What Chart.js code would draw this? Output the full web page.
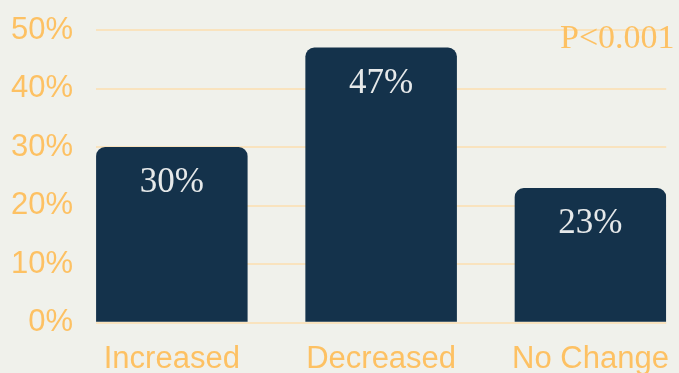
<!DOCTYPE html>
<html>
<head>
<meta charset="utf-8">
<script src="https://cdn.jsdelivr.net/npm/chart.js@4"></script>
<style>
  html, body { margin: 0; padding: 0; background: #f0f1eb; }
  #wrap { width: 679px; height: 373px; }
</style>
</head>
<body>
<div id="wrap"><canvas id="chart"></canvas></div>
<script>
const categories = ['Increased', 'Decreased', 'No Change'];
const values = [30, 47, 23];
const yTicks = [0, 10, 20, 30, 40, 50];
const pValueText = 'P<0.001';

const orange = '#fdc163';
const navy = '#14324b';

// bar value labels + p-value note
const labelPlugin = {
  id: 'labels',
  afterDatasetsDraw(chart) {
    const ctx = chart.ctx;
    const meta = chart.getDatasetMeta(0);
    ctx.save();
    ctx.font = '35px "Liberation Serif", "Times New Roman", serif';
    ctx.fillStyle = '#e6e9ea';
    ctx.textAlign = 'center';
    ctx.textBaseline = 'middle';
    meta.data.forEach((bar, i) => {
      ctx.fillText(values[i] + '%', bar.x, bar.y + 36);
    });
    ctx.font = '34px "Liberation Serif", "Times New Roman", serif';
    ctx.fillStyle = orange;
    ctx.textAlign = 'left';
    ctx.textBaseline = 'alphabetic';
    ctx.fillText(pValueText, 560, 48);
    ctx.restore();
  }
};

new Chart(document.getElementById('chart'), {
  type: 'bar',
  data: {
    datasets: [{
      data: values.map((v, i) => ({ x: i, y: v })),
      backgroundColor: navy,
      borderRadius: { topLeft: 9, topRight: 9 },
      borderSkipped: 'bottom',
      barPercentage: 0.724,
      categoryPercentage: 1
    }]
  },
  options: {
    responsive: true,
    maintainAspectRatio: false,
    animation: false,
    layout: { padding: { top: 30, right: 1, bottom: -15, left: -12 } },
    plugins: { legend: { display: false }, tooltip: { enabled: false } },
    scales: {
      x: {
        type: 'linear',
        min: -0.362,
        max: 2.362,
        bounds: 'data',
        offset: false,
        grid: { display: false, offset: false },
        border: { display: false },
        afterBuildTicks: s => { s.ticks = categories.map((c, i) => ({ value: i })); },
        ticks: {
          autoSkip: false,
          maxRotation: 0,
          padding: 10,
          color: orange,
          font: { family: '"Liberation Sans", Arial, sans-serif', size: 31 },
          callback: v => categories[v]
        }
      },
      y: {
        min: 0,
        max: 50,
        afterBuildTicks: s => { s.ticks = yTicks.map(v => ({ value: v })); },
        afterFit: s => { s.paddingTop = 0; },
        grid: { color: '#f9e3be', lineWidth: 2, drawTicks: false },
        border: { display: false },
        ticks: {
          padding: 23,
          color: orange,
          font: { family: '"Liberation Sans", Arial, sans-serif', size: 31 },
          callback: v => v + '%'
        }
      }
    }
  },
  plugins: [labelPlugin]
});
</script>
</body>
</html>
